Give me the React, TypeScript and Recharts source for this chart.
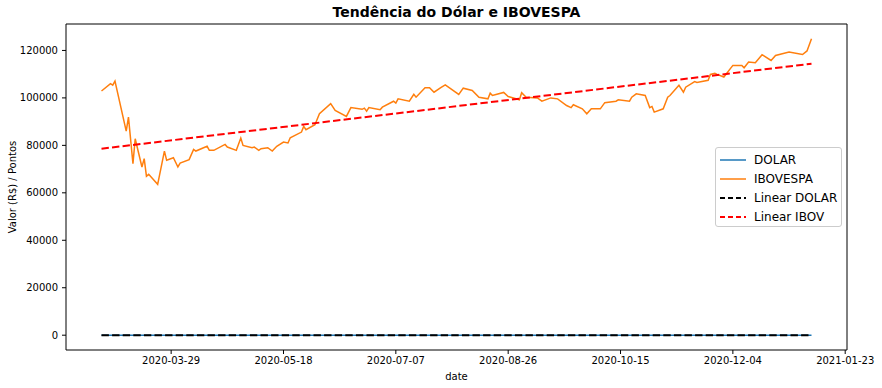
import { LineChart, Line, XAxis, YAxis, ReferenceArea, Legend } from "recharts";

const FONT = "'DejaVu Sans', 'Liberation Sans', sans-serif";

const ibovDates = [
  "2020-02-27", "2020-03-02", "2020-03-03", "2020-03-04", "2020-03-09", "2020-03-10",
  "2020-03-12", "2020-03-13", "2020-03-16", "2020-03-17", "2020-03-18", "2020-03-19",
  "2020-03-23", "2020-03-26", "2020-03-27", "2020-03-30", "2020-04-01", "2020-04-02",
  "2020-04-06", "2020-04-08", "2020-04-09", "2020-04-14", "2020-04-15", "2020-04-17",
  "2020-04-22", "2020-04-23", "2020-04-27", "2020-04-29", "2020-04-30", "2020-05-04",
  "2020-05-05", "2020-05-07", "2020-05-08", "2020-05-11", "2020-05-13", "2020-05-15",
  "2020-05-18", "2020-05-20", "2020-05-21", "2020-05-26", "2020-05-27", "2020-05-28",
  "2020-06-01", "2020-06-03", "2020-06-08", "2020-06-10", "2020-06-15", "2020-06-17",
  "2020-06-22", "2020-06-23", "2020-06-24", "2020-06-25", "2020-06-30", "2020-07-01",
  "2020-07-06", "2020-07-07", "2020-07-08", "2020-07-13", "2020-07-15", "2020-07-16",
  "2020-07-20", "2020-07-22", "2020-07-24", "2020-07-27", "2020-07-29", "2020-08-04",
  "2020-08-06", "2020-08-10", "2020-08-13", "2020-08-17", "2020-08-18", "2020-08-19",
  "2020-08-24", "2020-08-26", "2020-08-31", "2020-09-01", "2020-09-03", "2020-09-08",
  "2020-09-10", "2020-09-14", "2020-09-17", "2020-09-21", "2020-09-23", "2020-09-24",
  "2020-09-28", "2020-09-30", "2020-10-02", "2020-10-06", "2020-10-08", "2020-10-13",
  "2020-10-14", "2020-10-19", "2020-10-20", "2020-10-22", "2020-10-26", "2020-10-28",
  "2020-10-29", "2020-10-30", "2020-11-03", "2020-11-05", "2020-11-06", "2020-11-10",
  "2020-11-12", "2020-11-13", "2020-11-17", "2020-11-18", "2020-11-23", "2020-11-24",
  "2020-11-26", "2020-11-27", "2020-11-30", "2020-12-04", "2020-12-08", "2020-12-09",
  "2020-12-11", "2020-12-14", "2020-12-17", "2020-12-21", "2020-12-23", "2020-12-29",
  "2021-01-04", "2021-01-06", "2021-01-08",
];

const ibovValues = [
  102900, 106000, 105400, 107100, 86000, 91900,
  72300, 82800, 70900, 74400, 67000, 67800,
  63600, 77600, 73700, 74800, 70900, 72500,
  74000, 78300, 77600, 79600, 77900, 77900,
  80400, 79300, 77900, 83100, 80000, 79000,
  79300, 77900, 78600, 79000, 77600, 79600,
  81400, 81000, 83200, 85600, 88000, 86600,
  88700, 93300, 97600, 94700, 92200, 95900,
  95200, 95700, 94400, 95900, 95000, 96100,
  98600, 97800, 99600, 98600, 101500, 100300,
  104300, 104300, 102400, 104300, 105500, 101500,
  104100, 103100, 100300, 99600, 102000, 101000,
  102300, 100600, 99200, 102200, 100300, 100000,
  98600, 100000, 99600, 96800, 95900, 97100,
  95400, 93300, 95400, 95400, 98000, 98600,
  99200, 98600, 100300, 101700, 101000, 95900,
  96400, 94000, 95400, 100300, 101000, 105300,
  102400, 104500, 106900, 106500, 107400, 109900,
  110400, 109900, 108800, 113700, 113700, 112700,
  115100, 114800, 118200, 115800, 117900, 119300,
  118300, 119800, 124900,
];

// dolar in R$, flat against the points scale
const dolarDates = [
  "2020-02-27", "2020-03-31", "2020-04-30", "2020-05-29", "2020-06-30", "2020-07-31",
  "2020-08-31", "2020-09-30", "2020-10-30", "2020-11-30", "2020-12-30", "2021-01-08",
];
const dolarValues = [4.48, 5.2, 5.43, 5.34, 5.47, 5.21, 5.47, 5.64, 5.77, 5.33, 5.19, 5.33];

const trendDates = ["2020-02-27", "2021-01-08"];
const linearDolar = [5.0, 5.55];
const linearIbov = [78600, 114400];

const xTickDates = [
  "2020-03-29", "2020-05-18", "2020-07-07", "2020-08-26",
  "2020-10-15", "2020-12-04", "2021-01-23",
];
const yTicks = [0, 20000, 40000, 60000, 80000, 100000, 120000];

const toPoints = (dates: string[], values: number[]) =>
  dates.map((d, i) => ({ t: Date.parse(d), v: values[i] }));

const ibov = toPoints(ibovDates, ibovValues);
const dolar = toPoints(dolarDates, dolarValues);
const trendDolar = toPoints(trendDates, linearDolar);
const trendIbov = toPoints(trendDates, linearIbov);

// matplotlib-like 5% margins
const tMin = Math.min(...ibov.map((p) => p.t));
const tMax = Math.max(...ibov.map((p) => p.t));
const tPad = (tMax - tMin) * 0.05;
const xDomain: [number, number] = [tMin - tPad, tMax + tPad];

const vMin = Math.min(...dolarValues);
const vMax = Math.max(...ibovValues);
const vPad = (vMax - vMin) * 0.05;
const yDomain: [number, number] = [vMin - vPad, vMax + vPad];

const legendItems = [
  { label: "DOLAR", color: "#1f77b4", dash: undefined, width: 1.5 },
  { label: "IBOVESPA", color: "#ff7f0e", dash: undefined, width: 1.5 },
  { label: "Linear DOLAR", color: "#000000", dash: "5 3", width: 2 },
  { label: "Linear IBOV", color: "#ff0000", dash: "5 3", width: 2 },
];

function LegendBox() {
  return (
    <div
      style={{
        width: 127,
        height: 80,
        boxSizing: "border-box",
        background: "rgba(255,255,255,0.8)",
        border: "1px solid #cccccc",
        borderRadius: 3,
        padding: "2px 0 0 4px",
        fontFamily: FONT,
        fontSize: 12,
        color: "#000",
      }}
    >
      {legendItems.map((it) => (
        <div key={it.label} style={{ display: "flex", alignItems: "center", height: 19 }}>
          <svg width={26} height={10} style={{ marginRight: 8 }}>
            <line
              x1={0}
              y1={5}
              x2={26}
              y2={5}
              stroke={it.color}
              strokeWidth={it.width}
              strokeDasharray={it.dash}
            />
          </svg>
          <span>{it.label}</span>
        </div>
      ))}
    </div>
  );
}

const fmtDate = (t: number) => new Date(t).toISOString().slice(0, 10);

export default function App() {
  return (
    <div style={{ width: 882, height: 388, background: "#fff", position: "relative" }}>
      <style>{"body{margin:0;}"}</style>
      <div
        style={{
          position: "absolute",
          left: 66,
          width: 781,
          top: 4,
          textAlign: "center",
          fontFamily: FONT,
          fontWeight: "bold",
          fontSize: 14,
        }}
      >
        Tendência do Dólar e IBOVESPA
      </div>
      <LineChart
        width={882}
        height={388}
        margin={{ top: 24, right: 35, bottom: 0, left: 0 }}
      >
        <XAxis
          dataKey="t"
          type="number"
          domain={xDomain}
          allowDataOverflow
          ticks={xTickDates.map((d) => Date.parse(d))}
          tickFormatter={fmtDate}
          height={38}
          axisLine={false}
          tickLine={{ stroke: "#000" }}
          tickSize={4}
          tickMargin={3}
          tick={{ fill: "#000", fontSize: 10, fontFamily: FONT }}
          label={{
            value: "date",
            position: "insideBottom",
            offset: 8,
            style: { fill: "#000", fontSize: 10, fontFamily: FONT },
          }}
        />
        <YAxis
          type="number"
          domain={yDomain}
          allowDataOverflow
          ticks={yTicks}
          width={66}
          axisLine={false}
          tickLine={{ stroke: "#000" }}
          tickSize={4}
          tickMargin={4}
          tick={{ fill: "#000", fontSize: 10, fontFamily: FONT }}
          label={{
            value: "Valor (R$) / Pontos",
            angle: -90,
            position: "insideLeft",
            offset: 12,
            style: { fill: "#000", fontSize: 10, fontFamily: FONT, textAnchor: "middle" },
          }}
        />
        <ReferenceArea
          x1={xDomain[0]}
          x2={xDomain[1]}
          y1={yDomain[0]}
          y2={yDomain[1]}
          fill="none"
          stroke="#000"
          strokeWidth={1}
          ifOverflow="visible"
        />
        <Line
          data={dolar}
          dataKey="v"
          name="DOLAR"
          stroke="#1f77b4"
          strokeWidth={1.5}
          dot={false}
          isAnimationActive={false}
        />
        <Line
          data={ibov}
          dataKey="v"
          name="IBOVESPA"
          stroke="#ff7f0e"
          strokeWidth={1.5}
          dot={false}
          isAnimationActive={false}
        />
        <Line
          data={trendDolar}
          dataKey="v"
          name="Linear DOLAR"
          stroke="#000"
          strokeWidth={2}
          strokeDasharray="7.4 3.2"
          dot={false}
          isAnimationActive={false}
        />
        <Line
          data={trendIbov}
          dataKey="v"
          name="Linear IBOV"
          stroke="#ff0000"
          strokeWidth={2}
          strokeDasharray="7.4 3.2"
          dot={false}
          isAnimationActive={false}
        />
        <Legend
          layout="vertical"
          align="center"
          verticalAlign="middle"
          content={() => <LegendBox />}
          wrapperStyle={{ left: 715, top: 147, width: 127, height: 80 }}
        />
      </LineChart>
    </div>
  );
}
